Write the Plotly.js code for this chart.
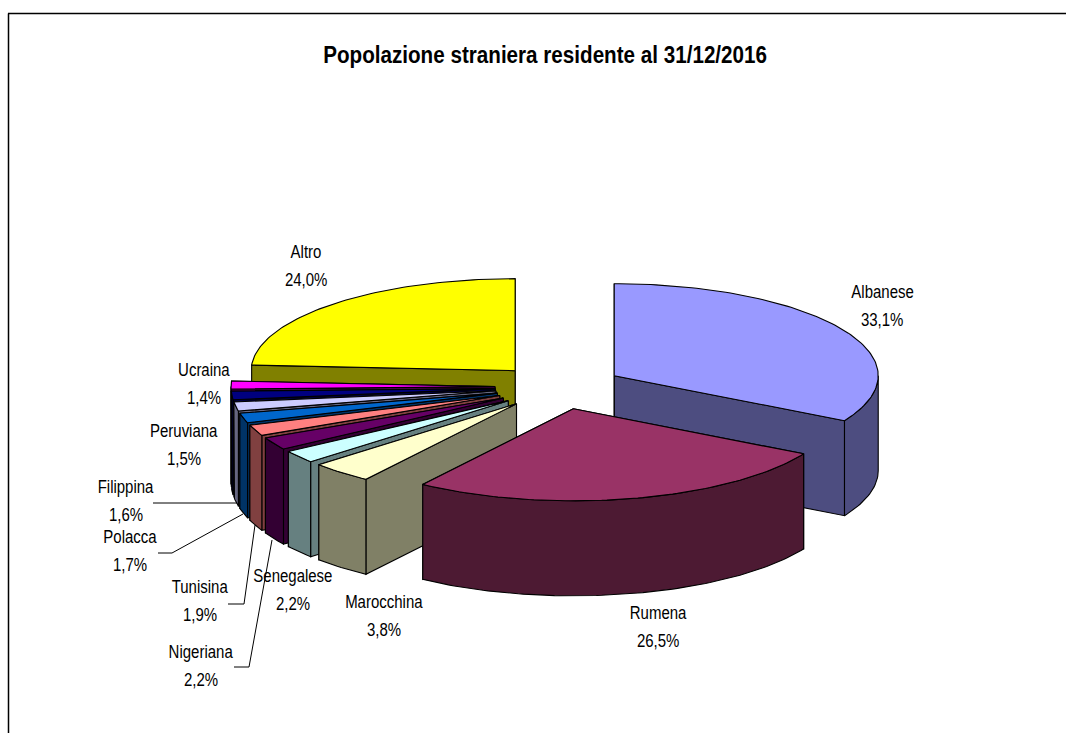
<!DOCTYPE html>
<html><head><meta charset="utf-8">
<script src="https://cdn.plot.ly/plotly-3.0.1.min.js"></script>
<style>html,body{margin:0;padding:0;background:#fff;overflow:hidden}</style>
</head><body><div id="chart" style="width:1066px;height:733px"></div>
<script>
const categories = ["Albanese","Rumena","Marocchina","Senegalese","Nigeriana","Tunisina","Polacca","Filippina","Peruviana","Ucraina","Altro"];
const percents = [33.1,26.5,3.8,2.2,2.2,1.9,1.7,1.6,1.5,1.4,24.0];
const topColors = ["#9999FF","#993366","#FFFFCC","#CCFFFF","#660066","#FF8080","#0066CC","#CCCCFF","#000080","#FF00FF","#FFFF00"];
const sideColors = ["#4D4D80","#4D1A33","#808066","#668080","#330033","#804040","#003366","#666680","#000040","#800080","#808000"];
const titleText = "Popolazione straniera residente al 31/12/2016";

// projection of the tilted, exploded pie onto the hidden pixel-scaled axes
const C = {x:559, y:387, rx:264, ry:92, ex:64, ey:22.4, depth:95};
const FONT = "'Liberation Sans',Arial,sans-serif";
const total = percents.reduce((a,b)=>a+b,0);
let acc = 0;
const slices = percents.map((v,i)=>{
  const a0 = acc/total*2*Math.PI; acc += v; const a1 = acc/total*2*Math.PI;
  const m = (a0+a1)/2;
  return {i, a0, a1, ax:C.x+C.ex*Math.sin(m), ay:C.y-C.ey*Math.cos(m)};
});
const rim = (s,a)=>[s.ax+C.rx*Math.sin(a), s.ay-C.ry*Math.cos(a)];
function arc(s,a,b){const n=Math.max(3,Math.ceil(Math.abs(b-a)/0.02));const p=[];
  for(let k=0;k<=n;k++)p.push(rim(s,a+(b-a)*k/n));return p;}
const traces=[];
function poly(pts,color,name){
  traces.push({type:'scatter',mode:'lines',x:pts.map(p=>p[0]).concat(pts[0][0]),y:pts.map(p=>p[1]).concat(pts[0][1]),
    fill:'toself',fillcolor:color,line:{color:'#000',width:1.1},hoverinfo:'text',text:name,showlegend:false});
}
// back to front
const order=[10,9,8,7,6,5,4,3,2,0,1];
order.forEach(idx=>{
  const s=slices[idx], col=sideColors[idx], D=C.depth, name=categories[idx];
  const down=p=>[p[0],p[1]+D];
  const A=[s.ax,s.ay], P0=rim(s,s.a0), P1=rim(s,s.a1);
  poly([A,P1,down(P1),down(A)],col,name);
  poly([A,P0,down(P0),down(A)],col,name);
  // visible outer wall: only the front half of the rim (angles 90..270 deg)
  const lo=Math.max(s.a0,Math.PI/2), hi=Math.min(s.a1,3*Math.PI/2);
  if(hi>lo){const t=arc(s,lo,hi);poly(t.concat(t.slice().reverse().map(down)),col,name);}
  poly([A].concat(arc(s,s.a0,s.a1)),topColors[idx],name);
});

const fmt=v=>v.toFixed(1).replace('.',',');
const labelPos={Albanese:[882,305],Rumena:[658,626],Marocchina:[384,615],Senegalese:[293,589],Nigeriana:[201,665],
  Tunisina:[200,600],Polacca:[130,550],Filippina:[126,500],Peruviana:[184,444],Ucraina:[204,383],Altro:[306,265]};
const annotations=[];
const labelFont={family:FONT,size:18.5,color:'#000'};
categories.forEach((c,i)=>{
  const [lx,ly]=labelPos[c];
  annotations.push({x:lx,y:ly-14,xref:'x',yref:'y',showarrow:false,text:c,font:labelFont});
  annotations.push({x:lx,y:ly+14,xref:'x',yref:'y',showarrow:false,text:fmt(percents[i])+'%',font:labelFont});
});
annotations.push({x:545,y:54,xref:'x',yref:'y',showarrow:false,text:'<b>'+titleText+'</b>',font:{family:FONT,size:24,color:'#000'}});

// leader lines
const leaders=[[[153,503],[237,503]],[[158,553],[172,553],[243,514]],[[228,604],[244,604],[255,525]],[[234,667],[249,667],[272,540]]];
leaders.forEach(l=>traces.push({type:'scatter',mode:'lines',x:l.map(p=>p[0]),y:l.map(p=>p[1]),line:{color:'#000',width:1},hoverinfo:'skip',showlegend:false}));

Plotly.newPlot('chart',traces,{
  width:1066,height:733,margin:{l:0,r:0,t:0,b:0},paper_bgcolor:'#fff',plot_bgcolor:'#fff',showlegend:false,
  xaxis:{range:[0,1066],visible:false,fixedrange:true},
  yaxis:{range:[733,0],visible:false,fixedrange:true},
  annotations,
  shapes:[{type:'line',xref:'x',yref:'y',x0:8.5,y0:13.5,x1:8.5,y1:733,line:{color:'#000',width:1.5}},
          {type:'line',xref:'x',yref:'y',x0:8,y0:13.5,x1:1066,y1:13.5,line:{color:'#000',width:1.5}}]
},{displayModeBar:false,staticPlot:true}).then(gd=>{
  // the reference lettering is condensed: squeeze each annotation about its own centre
  const nodes=gd.querySelectorAll('.annotation-text-g');
  nodes.forEach((g,i)=>{
    const b=g.getBBox(), cx=b.x+b.width/2, k=(i===nodes.length-1)?0.86:0.81;
    const prev=g.getAttribute('transform')||'';
    g.setAttribute('transform',prev+` translate(${cx},0) scale(${k},1) translate(${-cx},0)`);
  });
});
</script></body></html>
